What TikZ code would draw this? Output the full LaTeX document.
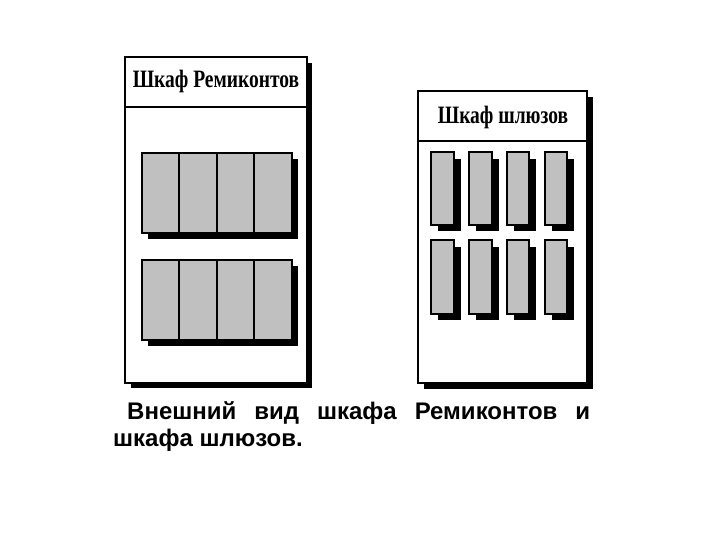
\documentclass[tikz,border=0pt]{standalone}
\usepackage{fontspec}
\setmainfont{Liberation Serif}
\newfontfamily\captionfont{Liberation Sans}
\definecolor{modgray}{RGB}{192,192,192}

\begin{document}
\begin{tikzpicture}[x=1pt,y=-1pt]
\useasboundingbox (0,0) rectangle (720,540);
% cabinet Remikont
\fill[black](131,63) rectangle (312,388);
\draw[fill=white,line width=2.5pt](125,57) rectangle (307,383);
\draw[line width=2pt](125,107) -- (307,107);
\node (remtitle) at (216,81) {\scalebox{0.78}[1]{\fontsize{25}{27}\selectfont\bfseries Шкаф Ремиконтов}};
% upper block
\fill[black](148,159) rectangle (298,239);
\draw[fill=modgray,line width=2pt](142,153) rectangle (292,233);
\draw[line width=2pt](179,153) -- (179,233);
\draw[line width=2pt](217,153) -- (217,233);
\draw[line width=2pt](254,153) -- (254,233);
% lower block
\fill[black](148,266) rectangle (298,346);
\draw[fill=modgray,line width=2pt](142,260) rectangle (292,340);
\draw[line width=2pt](179,260) -- (179,340);
\draw[line width=2pt](217,260) -- (217,340);
\draw[line width=2pt](254,260) -- (254,340);
% cabinet of gateways
\fill[black](424,97) rectangle (593,389);
\draw[fill=white,line width=2.5pt](418,91) rectangle (587,383);
\draw[line width=2pt](418,141) -- (587,141);
\node (gwtitle) at (503,117) {\scalebox{0.78}[1]{\fontsize{25}{27}\selectfont\bfseries Шкаф шлюзов}};
% upper row
\fill[black](438,159) rectangle (461,231);
\fill[black](476,159) rectangle (499,231);
\fill[black](514,159) rectangle (536,231);
\fill[black](552,159) rectangle (574,231);
\draw[fill=modgray,line width=2pt](431,152) rectangle (454,225);
\draw[fill=modgray,line width=2pt](469,152) rectangle (492,225);
\draw[fill=modgray,line width=2pt](507,152) rectangle (529,225);
\draw[fill=modgray,line width=2pt](545,152) rectangle (567,225);
% lower row
\fill[black](438,247) rectangle (461,320);
\fill[black](476,247) rectangle (499,320);
\fill[black](514,247) rectangle (536,320);
\fill[black](552,247) rectangle (574,320);
\draw[fill=modgray,line width=2pt](431,240) rectangle (454,314);
\draw[fill=modgray,line width=2pt](469,240) rectangle (492,314);
\draw[fill=modgray,line width=2pt](507,240) rectangle (529,314);
\draw[fill=modgray,line width=2pt](545,240) rectangle (567,314);
% caption
\node[anchor=north west,inner sep=0pt,text width=477pt,align=justify,
  font=\captionfont\bfseries\fontsize{24}{27}\selectfont] (caption) at (113,401)
  {\hspace*{14pt}Внешний вид шкафа Ремиконтов и\linebreak шкафа шлюзов.};
\end{tikzpicture}
\end{document}
